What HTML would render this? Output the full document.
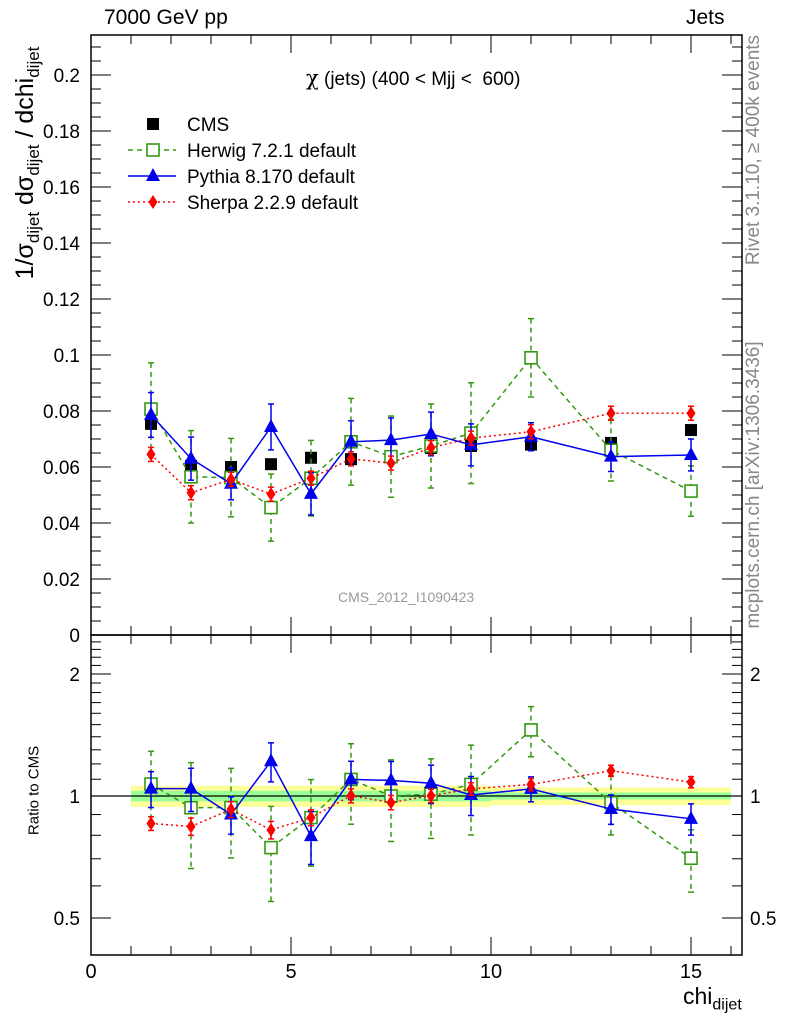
<!DOCTYPE html>
<html><head><meta charset="utf-8"><style>
body{margin:0;background:#fff;width:786px;height:1024px;overflow:hidden;font-family:"Liberation Sans",sans-serif}
svg text{font-family:"Liberation Sans",sans-serif}
</style></head><body>
<svg id="c" width="786" height="1024" xmlns="http://www.w3.org/2000/svg"></svg>
<script>
const xCenters=[1.5,2.5,3.5,4.5,5.5,6.5,7.5,8.5,9.5,11,13,15];
const xLow=[1,2,3,4,5,6,7,8,9,10,12,14];
const xHigh=[2,3,4,5,6,7,8,9,10,12,14,16];
const cmsVals=[0.0754,0.0604,0.060,0.061,0.0633,0.0628,0.0637,0.0668,0.0675,0.068,0.0686,0.0732];
const cmsErrInner=[0.03,0.03,0.03,0.03,0.03,0.03,0.03,0.03,0.03,0.02,0.02,0.02];
const cmsErrOuter=[0.06,0.06,0.06,0.06,0.06,0.06,0.06,0.06,0.06,0.05,0.05,0.05];
const herwigVals=[0.0807,0.0565,0.0562,0.0455,0.056,0.069,0.0637,0.0675,0.0721,0.099,0.066,0.0514];
const herwigErr=[0.0165,0.0165,0.014,0.012,0.0135,0.0155,0.0145,0.015,0.018,0.014,0.011,0.009];
const pythiaVals=[0.0786,0.063,0.054,0.0743,0.0504,0.069,0.0696,0.0718,0.0679,0.0708,0.0637,0.0643];
const pythiaErr=[0.008,0.0077,0.0057,0.0082,0.0075,0.0075,0.0079,0.0078,0.0075,0.005,0.0053,0.0057];
const sherpaVals=[0.0645,0.0508,0.0556,0.0503,0.056,0.0629,0.0614,0.0669,0.0703,0.0726,0.0792,0.0792];
const sherpaErr=[0.0025,0.0025,0.0025,0.0025,0.0025,0.0025,0.0025,0.0025,0.0025,0.0025,0.0025,0.0025];
const mainTicks=[0,0.02,0.04,0.06,0.08,0.1,0.12,0.14,0.16,0.18,0.2];
const mainTickLabels=["0","0.02","0.04","0.06","0.08","0.1","0.12","0.14","0.16","0.18","0.2"];
const xTicks=[0,5,10,15];
const ratioTicks=[0.5,1,2];

const NS="http://www.w3.org/2000/svg";
const svg=document.getElementById('c');
const L=91,R=742,T=35,MB=635,RB=955;
const X=v=>L+v*40;
const Y=v=>MB-v*2800;
const RY=v=>796-Math.log2(v)*122;
function el(tag,attrs,parent){const e=document.createElementNS(NS,tag);for(const k in attrs)e.setAttribute(k,attrs[k]);(parent||svg).appendChild(e);return e;}
function txt(s,attrs,parent){const e=el('text',attrs,parent);e.innerHTML=s;return e;}

const band=el('g',{});


xCenters.forEach((c,i)=>{
  el('rect',{x:X(xLow[i]),y:RY(1+cmsErrOuter[i]),width:X(xHigh[i])-X(xLow[i]),height:RY(1-cmsErrOuter[i])-RY(1+cmsErrOuter[i]),fill:'#ffff99'},band);
  el('rect',{x:X(xLow[i]),y:RY(1+cmsErrInner[i]),width:X(xHigh[i])-X(xLow[i]),height:RY(1-cmsErrInner[i])-RY(1+cmsErrInner[i]),fill:'#99ff99'},band);
});
el('line',{x1:L,x2:R,y1:RY(1),y2:RY(1),stroke:'#000','stroke-width':1.2});

const f1=el('rect',{x:L,y:T,width:R-L,height:MB-T,fill:'none',stroke:'#000','stroke-width':1.5});

const f2=el('rect',{x:L,y:MB,width:R-L,height:RB-MB,fill:'none',stroke:'#000','stroke-width':1.5});


for(let v=0;v<=16;v++){
  const len=(v%5===0)?18:9;
  [[T,1],[MB,-1],[MB,1],[RB,-1]].forEach(([y,d])=>el('line',{x1:X(v),x2:X(v),y1:y,y2:y+d*len,stroke:'#000'}));
}
xTicks.forEach(v=>{const t=txt(String(v),{x:X(v),y:978,'font-size':20,'text-anchor':'middle'});
});
for(let v=0;v<=0.2141;v+=0.005){
  const major=Math.abs(v/0.02-Math.round(v/0.02))<1e-6;const len=major?20:10;
  el('line',{x1:L,x2:L+len,y1:Y(v),y2:Y(v),stroke:'#000'});
  el('line',{x1:R,x2:R-len,y1:Y(v),y2:Y(v),stroke:'#000'});
}
mainTicks.forEach((v,i)=>{const t=txt(mainTickLabels[i],{x:80,y:Y(v)+7,'font-size':19,'text-anchor':'end'});
});
[0.5,0.6,0.7,0.8,0.9,1,1.1,1.2,1.3,1.4,1.5,1.6,1.7,1.8,1.9,2,2.1,2.2,2.3,2.4].forEach(v=>{
  const major=ratioTicks.includes(v);const len=major?20:10;
  el('line',{x1:L,x2:L+len,y1:RY(v),y2:RY(v),stroke:'#000'});
  el('line',{x1:R,x2:R-len,y1:RY(v),y2:RY(v),stroke:'#000'});
});
ratioTicks.forEach(v=>{
  const a=txt(String(v),{x:80,y:RY(v)+7,'font-size':19,'text-anchor':'end'});
  
  const b=txt(String(v),{x:750,y:RY(v)+7,'font-size':19,'text-anchor':'start'});
  
});

function marker(type,cx,cy,color,g){
  if(type==='sq')el('rect',{x:cx-6,y:cy-6,width:12,height:12,fill:color},g);
  else if(type==='osq')el('rect',{x:cx-6,y:cy-6,width:12,height:12,fill:'#fff',stroke:color,'stroke-width':1.6},g);
  else if(type==='tri')el('polygon',{points:`${cx},${cy-8} ${cx-7},${cy+5} ${cx+7},${cy+5}`,fill:color},g);
  else if(type==='dia')el('polygon',{points:`${cx},${cy-7} ${cx-4.5},${cy} ${cx},${cy+7} ${cx+4.5},${cy}`,fill:color},g);
}
function series(name,vals,errs,color,dash,type,ratio){
  const g=el('g',{});
  
  
  const yf=ratio?(v=>RY(v)):(v=>Y(v));
  const vv=vals.map((v,i)=>ratio?v/cmsVals[i]:v);
  const ee=errs.map((e,i)=>ratio?e/cmsVals[i]:e);
  if(dash!==null){
    el('polyline',{points:xCenters.map((x,i)=>X(x)+','+yf(vv[i])).join(' '),fill:'none',stroke:color,'stroke-width':1.5,'stroke-dasharray':dash},g);
    xCenters.forEach((x,i)=>{
      el('line',{x1:X(x),x2:X(x),y1:yf(vv[i]+ee[i]),y2:yf(Math.max(vv[i]-ee[i],0.001)),stroke:color,'stroke-width':1.5,'stroke-dasharray':dash},g);
      [vv[i]+ee[i],vv[i]-ee[i]].forEach(e=>el('line',{x1:X(x)-3,x2:X(x)+3,y1:yf(e),y2:yf(e),stroke:color,'stroke-width':1.5},g));
    });
  }
  xCenters.forEach((x,i)=>marker(type,X(x),yf(vv[i]),color,g));
}
series('cms',cmsVals,cmsVals.map(()=>0),'#000',null,'sq',false);
series('herwig',herwigVals,herwigErr,'#339911','5,4','osq',false);
series('pythia',pythiaVals,pythiaErr,'#0000ee','','tri',false);
series('sherpa',sherpaVals,sherpaErr,'#ff0000','2,3','dia',false);
series('herwig',herwigVals,herwigErr,'#339911','5,4','osq',true);
series('pythia',pythiaVals,pythiaErr,'#0000ee','','tri',true);
series('sherpa',sherpaVals,sherpaErr,'#ff0000','2,3','dia',true);

const leg=[['CMS','#000',null,'sq'],['Herwig 7.2.1 default','#339911','5,4','osq'],['Pythia 8.170 default','#0000ee','','tri'],['Sherpa 2.2.9 default','#ff0000','2,3','dia']];
leg.forEach((l,i)=>{
  const g=el('g',{});
  
  
  const y=124+i*26;
  if(l[2]!==null)el('line',{x1:128,x2:176,y1:y,y2:y,stroke:l[1],'stroke-width':1.5,'stroke-dasharray':l[2]},g);
  marker(l[3],153,y,l[1],g);
  txt(l[0],{x:187,y:y+7,'font-size':19},g);
});
</script>
<div style="position:absolute;left:0;top:0;width:786px;height:1024px;pointer-events:none">
<div style="position:absolute;left:104px;top:6px;font-size:21px">7000 GeV pp</div>
<div style="position:absolute;left:686px;top:6px;font-size:21px">Jets</div>
<div style="position:absolute;left:306px;top:66px;font-size:19px;white-space:nowrap"><span style="font-family:'DejaVu Serif',serif;font-size:21px">χ</span> (jets) (400 &lt; Mjj &lt;&nbsp; 600)</div>
<div style="position:absolute;left:338px;top:589px;font-size:14px;color:#999">CMS_2012_I1090423</div>
<div style="position:absolute;left:683px;top:983px;font-size:23px;white-space:nowrap">chi<sub style="font-size:16px">dijet</sub></div>
<div style="position:absolute;left:-135px;top:148px;width:320px;transform:rotate(-90deg);transform-origin:center;font-size:25px;white-space:nowrap;text-align:center;height:30px;line-height:30px">1/σ<sub style="font-size:17px">dijet</sub> dσ<sub style="font-size:17px">dijet</sub> / dchi<sub style="font-size:17px">dijet</sub></div>
<div style="position:absolute;left:-26px;top:782px;width:120px;transform:rotate(-90deg);font-size:15px;text-align:center;white-space:nowrap">Ratio to CMS</div>
<div style="position:absolute;left:624px;top:140px;width:260px;height:20px;line-height:20px;transform:rotate(-90deg);font-size:19px;color:#888;white-space:nowrap;text-align:center">Rivet 3.1.10, ≥ 400k events</div>
<div style="position:absolute;left:594px;top:475px;width:320px;height:20px;line-height:20px;transform:rotate(-90deg);font-size:19px;color:#888;white-space:nowrap;text-align:center">mcplots.cern.ch [arXiv:1306.3436]</div>
</div>
</body></html>
